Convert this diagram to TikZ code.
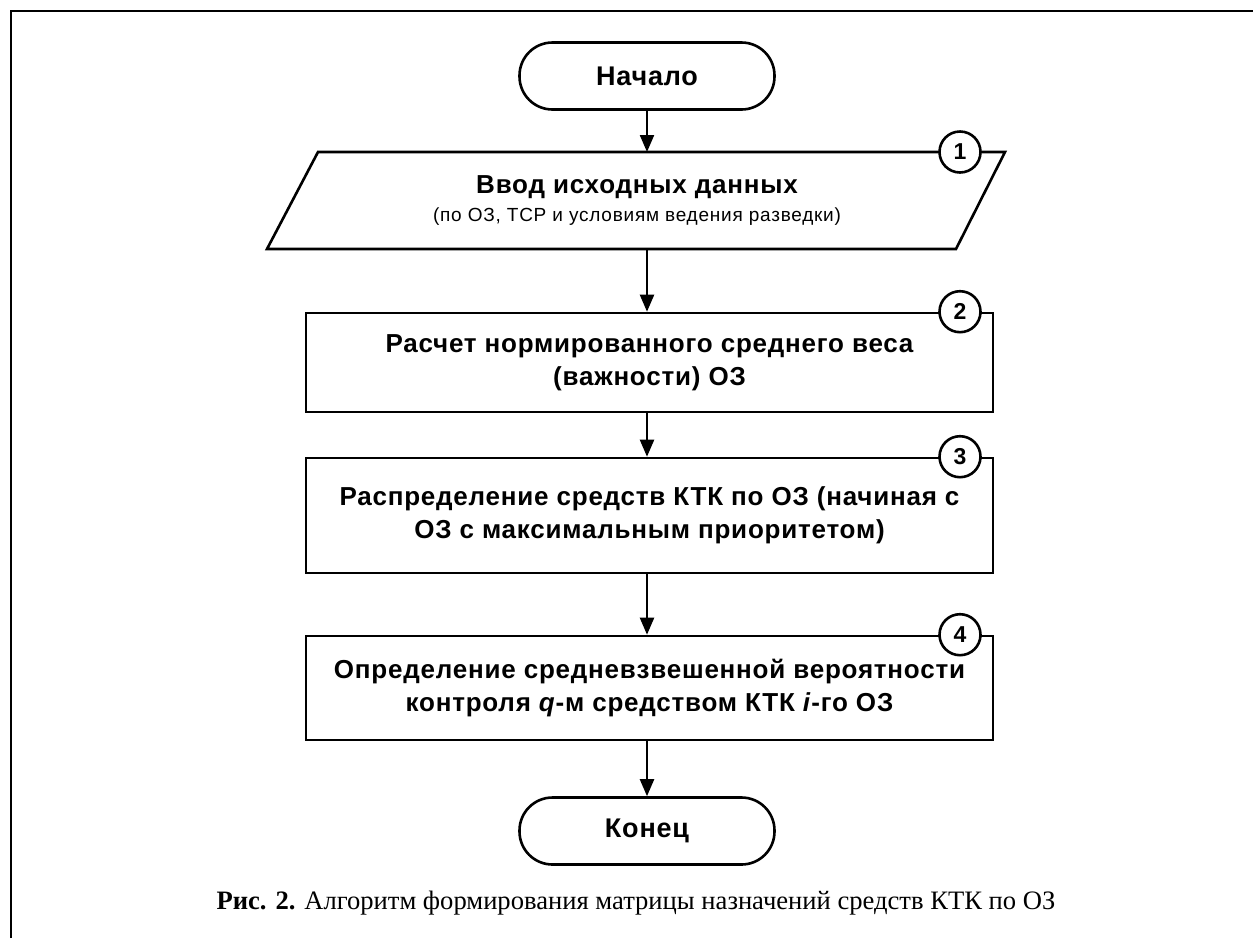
\documentclass[tikz,border=0pt]{standalone}
\usepackage{fontspec}
\setmainfont{Liberation Serif}
\newfontfamily\arialf{Liberation Sans}[LetterSpace=3]
\newfontfamily\arialg{Liberation Sans}[LetterSpace=4]
\usetikzlibrary{arrows.meta,calc}
\begin{document}
\begin{tikzpicture}[x=1pt,y=-1pt,
  line width=2.6pt,
  term/.style={draw, rounded corners=33pt, minimum width=255pt, minimum height=67pt, inner sep=0pt,
    font=\arialf\bfseries\fontsize{27}{30}\selectfont},
  proc/.style={draw, minimum width=687pt, align=center, inner sep=0pt,
    font=\arialf\bfseries\fontsize{26}{33}\selectfont},
  num/.style={draw, circle, fill=white, minimum size=41pt, inner sep=0pt,
    font=\arialf\bfseries\fontsize{23}{24}\selectfont},
  arr/.style={-{Triangle[width=14pt,length=17pt]}, line width=2.2pt}]
\useasboundingbox (0,0) rectangle (1253,938);
% frame
\coordinate (fb) at (11,938);
\coordinate (ftl) at (11,11);
\coordinate (fr) at (1253,11);
\draw (fb) -- (ftl) -- (fr);
% start
\node[term] (start) at (647,76) {Начало};
% input parallelogram
\coordinate (p1) at (318,152);
\coordinate (p2) at (1005,152);
\coordinate (p3) at (956,249);
\coordinate (p4) at (267,249);
\draw (p1) -- (p2) -- (p3) -- (p4) -- cycle;
\node[minimum height=97pt, minimum width=600pt, align=center, inner sep=0pt,
  font=\arialf\bfseries\fontsize{26}{30}\selectfont] (inp) at (637,201)
  {Ввод исходных данных\\[-2pt]{\arialg\mdseries\fontsize{19}{22}\selectfont (по ОЗ, ТСР и условиям ведения разведки)}};
\node[num] (n1) at (960,152) {1};
% process boxes
\node[proc, minimum height=99pt] (b2) at (649.5,362.5)
  {Расчет нормированного среднего веса\\(важности) ОЗ};
\node[num] (n2) at (b2.north -| n1) {2};
\node[proc, minimum height=115pt] (b3) at (649.5,515.5)
  {Распределение средств КТК по ОЗ (начиная с\\ОЗ с максимальным приоритетом)};
\node[num] (n3) at (b3.north -| n1) {3};
\node[proc, minimum height=104pt] (b4) at (649.5,688)
  {Определение средневзвешенной вероятности\\контроля \textit{q}-м средством КТК \textit{i}-го ОЗ};
\node[num] (n4) at (b4.north -| n1) {4};
% end
\node[term] (end) at (647,831) {Конец};
% arrows
\draw[arr] (start.south) -- (start.south |- p1);
\draw[arr] (start.south |- p4) -- (start.south |- b2.north);
\draw[arr] (start.south |- b2.south) -- (start.south |- b3.north);
\draw[arr] (start.south |- b3.south) -- (start.south |- b4.north);
\draw[arr] (start.south |- b4.south) -- (end.north);
% caption
\node[inner sep=0pt, font=\fontsize{26.6}{30}\selectfont] (cap) at (636,903)
  {\textbf{Рис. 2.} Алгоритм формирования матрицы назначений средств КТК по ОЗ};
\end{tikzpicture}
\end{document}
